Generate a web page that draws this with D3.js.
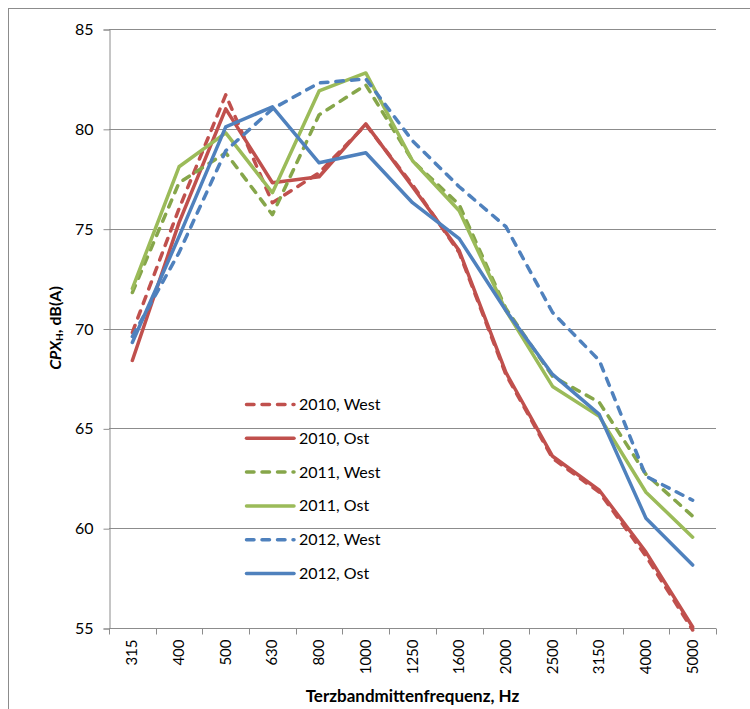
<!DOCTYPE html>
<html>
<head>
<meta charset="utf-8">
<script src="https://cdn.jsdelivr.net/npm/d3@7"></script>
<style>
  body { margin: 0; background: #fff; }
  svg { font-family: Lato, "Open Sans", sans-serif; display: block; }
</style>
</head>
<body>
<div id="chart"></div>
<script>
var categories = ["315", "400", "500", "630", "800", "1000", "1250", "1600", "2000", "2500", "3150", "4000", "5000"];

var west2010 = [69.8, 76.0, 81.7, 76.3, 77.8, 80.2, 77.2, 73.8, 67.7, 63.5, 61.8, 58.6, 54.9];
var ost2010  = [68.4, 75.3, 81.0, 77.3, 77.6, 80.25, 77.1, 73.9, 67.8, 63.6, 61.9, 58.8, 55.05];
var west2011 = [71.8, 77.3, 78.8, 75.7, 80.7, 82.2, 78.4, 76.2, 71.0, 67.6, 66.3, 62.7, 60.6];
var ost2011  = [72.0, 78.1, 79.8, 76.8, 81.9, 82.8, 78.4, 75.9, 70.9, 67.1, 65.6, 61.8, 59.55];
var west2012 = [69.6, 73.8, 78.9, 81.0, 82.3, 82.5, 79.4, 77.1, 75.1, 70.8, 68.4, 62.6, 61.4];
var ost2012  = [69.3, 74.6, 80.1, 81.1, 78.3, 78.8, 76.3, 74.5, 70.9, 67.7, 65.7, 60.5, 58.15];

var yTicks = [55, 60, 65, 70, 75, 80, 85];

var series = [
    {name: "2010, West", values: west2010, color: "#C0504D", dashed: true},
    {name: "2010, Ost",  values: ost2010,  color: "#C0504D", dashed: false},
    {name: "2011, West", values: west2011, color: "#86A64A", dashed: true},
    {name: "2011, Ost",  values: ost2011,  color: "#9BBB59", dashed: false},
    {name: "2012, West", values: west2012, color: "#4F81BD", dashed: true},
    {name: "2012, Ost",  values: ost2012,  color: "#4F81BD", dashed: false}
];

var width = 750, height = 709;
var plotLeft = 109, plotRight = 716, plotTop = 29, plotBottom = 628;

var svg = d3.select("#chart")
            .append("svg")
            .attr("width", width)
            .attr("height", height);

// outer chart frame (runs off the right and bottom of the picture)
svg.append("rect")
    .attr("x", 8.5).attr("y", 8.5)
    .attr("width", 760).attr("height", 720)
    .attr("fill", "none")
    .attr("stroke", "#8c8c8c")
    .attr("stroke-width", 1);

var x = d3.scaleBand().domain(categories).range([plotLeft, plotRight]);
var y = d3.scaleLinear().domain([55, 85]).range([plotBottom, plotTop]);

// Horizontal gridlines
svg.append("g")
    .selectAll("line")
    .data(yTicks.slice(1))
    .enter()
    .append("line")
    .attr("x1", plotLeft).attr("x2", plotRight)
    .attr("y1", function(d) { return Math.round(y(d)) + 0.5; })
    .attr("y2", function(d) { return Math.round(y(d)) + 0.5; })
    .attr("stroke", "#8c8c8c")
    .attr("stroke-width", 1);

// Y axis
var yAxis = svg.append("g")
    .attr("transform", "translate(" + (plotLeft + 0.5) + ",0.5)")
    .call(d3.axisLeft(y).tickValues(yTicks).tickSize(6).tickPadding(10));
yAxis.select(".domain").attr("stroke", "#8c8c8c");
yAxis.selectAll(".tick line").attr("stroke", "#8c8c8c");
yAxis.selectAll(".tick text")
    .attr("font-family", "Lato, sans-serif")
    .attr("font-size", "16px")
    .attr("fill", "#000");

// X axis with ticks between categories
var xAxis = svg.append("g")
    .attr("transform", "translate(0," + (plotBottom + 0.5) + ")");
xAxis.append("line")
    .attr("x1", plotLeft).attr("x2", plotRight)
    .attr("stroke", "#8c8c8c");
xAxis.selectAll("line.tk")
    .data(categories.concat(["end"]))
    .enter()
    .append("line")
    .attr("class", "tk")
    .attr("x1", function(d, i) { return Math.round(plotLeft + i * x.step()) + 0.5; })
    .attr("x2", function(d, i) { return Math.round(plotLeft + i * x.step()) + 0.5; })
    .attr("y1", 0).attr("y2", 6)
    .attr("stroke", "#8c8c8c");
xAxis.selectAll("text")
    .data(categories)
    .enter()
    .append("text")
    .text(function(d) { return d; })
    .attr("transform", function(d) {
        return "translate(" + (x(d) + x.bandwidth() / 2 + 5) + ",11) rotate(-90)";
    })
    .attr("text-anchor", "end")
    .attr("font-size", "15px")
    .attr("fill", "#000");

// Lines
var line = d3.line()
    .x(function(d, i) { return x(categories[i]) + x.bandwidth() / 2; })
    .y(function(d) { return y(d); });

svg.append("g")
    .selectAll("path")
    .data(series)
    .enter()
    .append("path")
    .attr("d", function(d) { return line(d.values); })
    .attr("fill", "none")
    .attr("stroke", function(d) { return d.color; })
    .attr("stroke-width", 3.5)
    .attr("stroke-linejoin", "round")
    .attr("stroke-linecap", "round")
    .attr("stroke-dasharray", function(d) { return d.dashed ? "7.5,8" : null; });

// Legend
var legend = svg.append("g")
    .selectAll("g")
    .data(series)
    .enter()
    .append("g")
    .attr("transform", function(d, i) { return "translate(245," + (404.5 + i * 33.8) + ")"; });
legend.append("line")
    .attr("x1", 1.5).attr("x2", 49)
    .attr("stroke", function(d) { return d.color; })
    .attr("stroke-width", 3.5)
    .attr("stroke-linecap", "round")
    .attr("stroke-dasharray", function(d) { return d.dashed ? "7.5,8" : null; });
legend.append("text")
    .text(function(d) { return d.name; })
    .attr("x", 54)
    .attr("y", 5.5)
    .attr("font-size", "16px")
    .attr("fill", "#000");

// Axis titles
svg.append("text")
    .attr("x", (plotLeft + plotRight) / 2)
    .attr("y", 702)
    .attr("text-anchor", "middle")
    .attr("font-size", "17px")
    .attr("font-weight", "bold")
    .attr("fill", "#000")
    .text("Terzbandmittenfrequenz, Hz");

var yTitle = svg.append("text")
    .attr("transform", "translate(61,328) rotate(-90)")
    .attr("text-anchor", "middle")
    .attr("font-size", "16px")
    .attr("font-weight", "bold")
    .attr("fill", "#000");
yTitle.append("tspan").attr("font-style", "italic").text("CPX");
yTitle.append("tspan").attr("font-size", "10px").attr("dy", 2).text("H");
yTitle.append("tspan").attr("dy", -2).text(", dB(A)");
</script>
</body>
</html>
